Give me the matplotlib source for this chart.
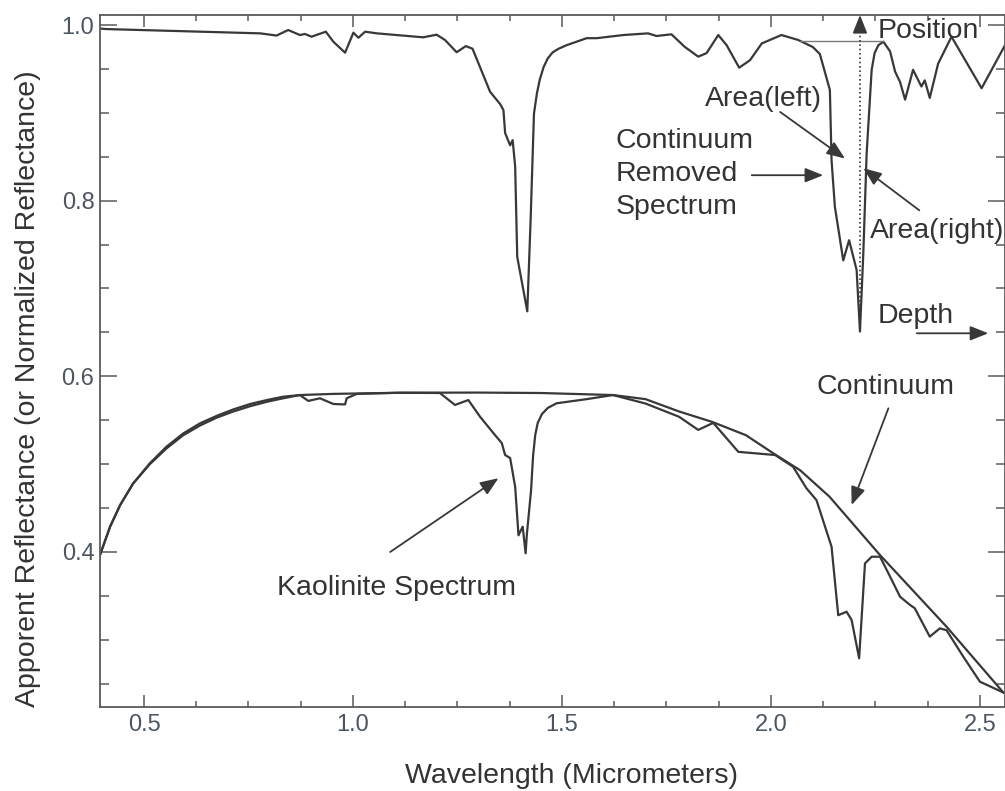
import matplotlib
matplotlib.use("Agg")
import matplotlib.pyplot as plt
from matplotlib.ticker import MultipleLocator, FixedLocator

plt.rcParams["font.family"] = ["Liberation Sans", "DejaVu Sans"]

# ---- data -------------------------------------------------------------
# Continuum-removed (normalized) kaolinite spectrum
cr_wave = [0.395, 0.409, 0.778, 0.817, 0.845, 0.873, 0.885, 0.901, 0.935, 0.953,
           0.981, 1.001, 1.013, 1.029, 1.057, 1.168, 1.200, 1.220, 1.248, 1.270,
           1.286, 1.310, 1.328, 1.352, 1.360, 1.364, 1.376, 1.382, 1.388, 1.393,
           1.417, 1.425, 1.433, 1.440, 1.447, 1.456, 1.466, 1.478, 1.492, 1.511,
           1.559, 1.583, 1.647, 1.706,
           1.726, 1.762, 1.794, 1.826, 1.846, 1.874, 1.894, 1.924, 1.950, 1.978,
           2.025, 2.065, 2.100, 2.117, 2.141, 2.145, 2.153, 2.173, 2.187, 2.205, 2.213,
           2.221, 2.229, 2.241, 2.248, 2.257, 2.269, 2.285, 2.297, 2.309, 2.321, 2.340,
           2.360, 2.368, 2.380, 2.400, 2.432, 2.504, 2.560]
cr_refl = [0.996, 0.9954, 0.9905, 0.988, 0.9943, 0.9886, 0.9898, 0.9867, 0.9924, 0.981,
           0.9685, 0.9913, 0.9855, 0.9924, 0.9905, 0.986, 0.989, 0.983, 0.969, 0.976,
           0.973, 0.945, 0.924, 0.910, 0.903, 0.877, 0.863, 0.869, 0.839, 0.736,
           0.674, 0.778, 0.899, 0.922, 0.938, 0.952, 0.962, 0.969, 0.973, 0.977,
           0.985, 0.985, 0.9886, 0.9905,
           0.9875, 0.9894, 0.975, 0.964, 0.968, 0.9886, 0.977, 0.9514, 0.960, 0.979,
           0.9886, 0.983, 0.975, 0.967, 0.926, 0.846, 0.793, 0.732, 0.755, 0.721, 0.651,
           0.740, 0.854, 0.949, 0.968, 0.977, 0.981, 0.970, 0.947, 0.935, 0.915, 0.949,
           0.930, 0.937, 0.917, 0.956, 0.9867, 0.928, 0.977]

# Kaolinite apparent reflectance spectrum
sp_wave = [0.395, 0.419, 0.443, 0.474, 0.514, 0.554, 0.594, 0.634, 0.674, 0.714,
           0.754, 0.794, 0.833, 0.873, 0.893, 0.921, 0.953, 0.981, 0.985, 1.009,
           1.112, 1.208, 1.244, 1.276, 1.304, 1.340, 1.356, 1.364, 1.376, 1.388,
           1.396, 1.406, 1.413, 1.416, 1.426, 1.431, 1.436, 1.442, 1.452, 1.466,
           1.487, 1.559, 1.622, 1.700, 1.780, 1.826, 1.862, 1.922, 2.010, 2.053,
           2.085, 2.109, 2.145, 2.161, 2.181, 2.193, 2.211, 2.225, 2.241, 2.261,
           2.285, 2.309, 2.333, 2.344, 2.380, 2.404, 2.420, 2.460, 2.500, 2.556]
sp_refl = [0.397, 0.429, 0.4535, 0.478, 0.500, 0.518, 0.533, 0.544, 0.553, 0.560,
           0.566, 0.571, 0.575, 0.5787, 0.572, 0.575, 0.5685, 0.568, 0.575, 0.580,
           0.5813, 0.581, 0.5674, 0.573, 0.554, 0.533, 0.524, 0.5104, 0.507, 0.4743,
           0.419, 0.4288, 0.3985, 0.420, 0.470, 0.510, 0.533, 0.547, 0.557, 0.564,
           0.5693, 0.574, 0.5787, 0.569, 0.554, 0.539, 0.547, 0.514, 0.5104, 0.497,
           0.4725, 0.459, 0.406, 0.328, 0.332, 0.3226, 0.279, 0.387, 0.3946, 0.3946,
           0.372, 0.349, 0.3396, 0.336, 0.3036, 0.313, 0.311, 0.281, 0.2523, 0.240]

# Continuum (hull) fitted over the spectrum
ct_wave = [0.395, 0.419, 0.443, 0.474, 0.514, 0.554, 0.594, 0.634, 0.674, 0.714,
           0.754, 0.794, 0.833, 0.873, 0.953, 1.112, 1.300, 1.450, 1.622, 1.700,
           1.780, 1.860, 1.940, 2.010, 2.070, 2.140, 2.260, 2.420, 2.556]
ct_refl = [0.397, 0.429, 0.4535, 0.478, 0.501, 0.520, 0.535, 0.5465, 0.555, 0.5624,
           0.5685, 0.573, 0.5768, 0.5787, 0.580, 0.5813, 0.5815, 0.581, 0.5787, 0.574,
           0.560, 0.548, 0.533, 0.511, 0.493, 0.463, 0.397, 0.315, 0.240]

# Absorption-feature parameters of the 2.2 um band
band_center = 2.213
band_min = 0.651
shoulder_left, shoulder_right, shoulder_level = 2.069, 2.268, 0.982

x_major = [0.5, 1.0, 1.5, 2.0, 2.5]
x_labels = ["0.5", "1.0", "1.5", "2.0", "2.5"]
y_major = [0.4, 0.6, 0.8, 1.0]
y_labels = ["0.4", "0.6", "0.8", "1.0"]

# annotation labels: (text, text x, text baseline y, arrow start, arrow tip)
notes = [
    ("Area(left)", 1.842, 0.9078, (2.022, 0.901), (2.177, 0.848)),
    ("Area(right)", 2.237, 0.7575, (2.355, 0.789), (2.221, 0.837)),
    ("Depth", 2.256, 0.6607, (2.349, 0.649), (2.520, 0.649)),
    ("Continuum", 2.110, 0.5799, (2.281, 0.5636), (2.193, 0.4535)),
    ("Kaolinite Spectrum", 0.818, 0.351, (1.089, 0.400), (1.348, 0.484)),
]
removed_lines = ["Continuum", "Removed", "Spectrum"]
removed_x, removed_y0, removed_step = 1.629, 0.860, 0.0375
removed_arrow = ((1.954, 0.829), (2.125, 0.829))

# ---- figure -----------------------------------------------------------
ink = "#383838"
spine_col = "#5a5a5a"
tick_col = "#4c5560"

fig = plt.figure(figsize=(10.05, 7.91), dpi=100)
ax = fig.add_axes([100 / 1005, 1 - 707 / 791, 905 / 1005, 692 / 791])
ax.set_xlim(0.3947, 2.560)
ax.set_ylim(0.2235, 1.0114)

ax.plot(cr_wave, cr_refl, color=ink, lw=1.6, solid_joinstyle="round")
ax.plot(sp_wave, sp_refl, color=ink, lw=1.6, solid_joinstyle="round")
ax.plot(ct_wave, ct_refl, color=ink, lw=1.6, solid_joinstyle="round")

# band position / depth construction
ax.plot([shoulder_left, shoulder_right], [shoulder_level, shoulder_level],
        color="#7a7a7a", lw=1.0)
ax.plot([band_center, band_center], [band_min, 0.995], color=ink, lw=1.2,
        linestyle=(0, (1, 1.6)))
arrow_style = "-|>,head_length=0.55,head_width=0.22"
ax.annotate("", xy=(band_center, 1.0114), xytext=(band_center, 0.994),
            arrowprops=dict(arrowstyle=arrow_style, color=ink, lw=1.3,
                            mutation_scale=20, shrinkA=0, shrinkB=0),
            annotation_clip=False)

text_kw = dict(fontsize=20.5, color="#333333", va="baseline", ha="left")
ax.text(2.256, 0.9852, "Position", clip_on=False, **text_kw)

for label, tx, ty, start, tip in notes:
    ax.text(tx, ty, label, clip_on=False, **text_kw)
    ax.annotate("", xy=tip, xytext=start,
                arrowprops=dict(arrowstyle=arrow_style, color=ink, lw=1.3,
                                mutation_scale=20, shrinkA=0, shrinkB=0),
                annotation_clip=False)

for i, line in enumerate(removed_lines):
    ax.text(removed_x, removed_y0 - i * removed_step, line, **text_kw)
ax.annotate("", xy=removed_arrow[1], xytext=removed_arrow[0],
            arrowprops=dict(arrowstyle=arrow_style, color=ink, lw=1.3,
                            mutation_scale=20, shrinkA=0, shrinkB=0))

# ---- axes styling -----------------------------------------------------
for s in ax.spines.values():
    s.set_color(spine_col)
    s.set_linewidth(1.3)

ax.xaxis.set_major_locator(FixedLocator(x_major))
ax.set_xticklabels(x_labels)
ax.xaxis.set_minor_locator(MultipleLocator(0.125))
ax.yaxis.set_major_locator(FixedLocator(y_major))
ax.set_yticklabels(y_labels)
ax.yaxis.set_minor_locator(MultipleLocator(0.05))

ax.tick_params(axis="x", which="both", direction="in", top=True, bottom=True,
               colors=spine_col, labelcolor=tick_col, labelsize=17, pad=5)
ax.tick_params(axis="x", which="major", length=8.5, width=1.1)
ax.tick_params(axis="x", which="minor", length=4.3, width=1.1)
ax.tick_params(axis="y", which="both", direction="in", left=True, right=True,
               colors=spine_col, labelcolor=tick_col, labelsize=17, pad=4)
ax.tick_params(axis="y", which="major", length=12.5, width=1.1)
ax.tick_params(axis="y", which="minor", length=6.5, width=1.1)

ax.set_xlabel("Wavelength (Micrometers)", fontsize=20.5, color="#333333")
ax.xaxis.label.set_va("baseline")
ax.xaxis.set_label_coords(0.5215, -0.1098)
ax.set_ylabel("Apporent Reflectance (or Normalized Reflectance)",
              fontsize=20.5, color="#333333")
ax.yaxis.label.set_va("baseline")
ax.yaxis.set_label_coords(-0.0718, 0.4595)

fig.savefig("out.png", dpi=100)
